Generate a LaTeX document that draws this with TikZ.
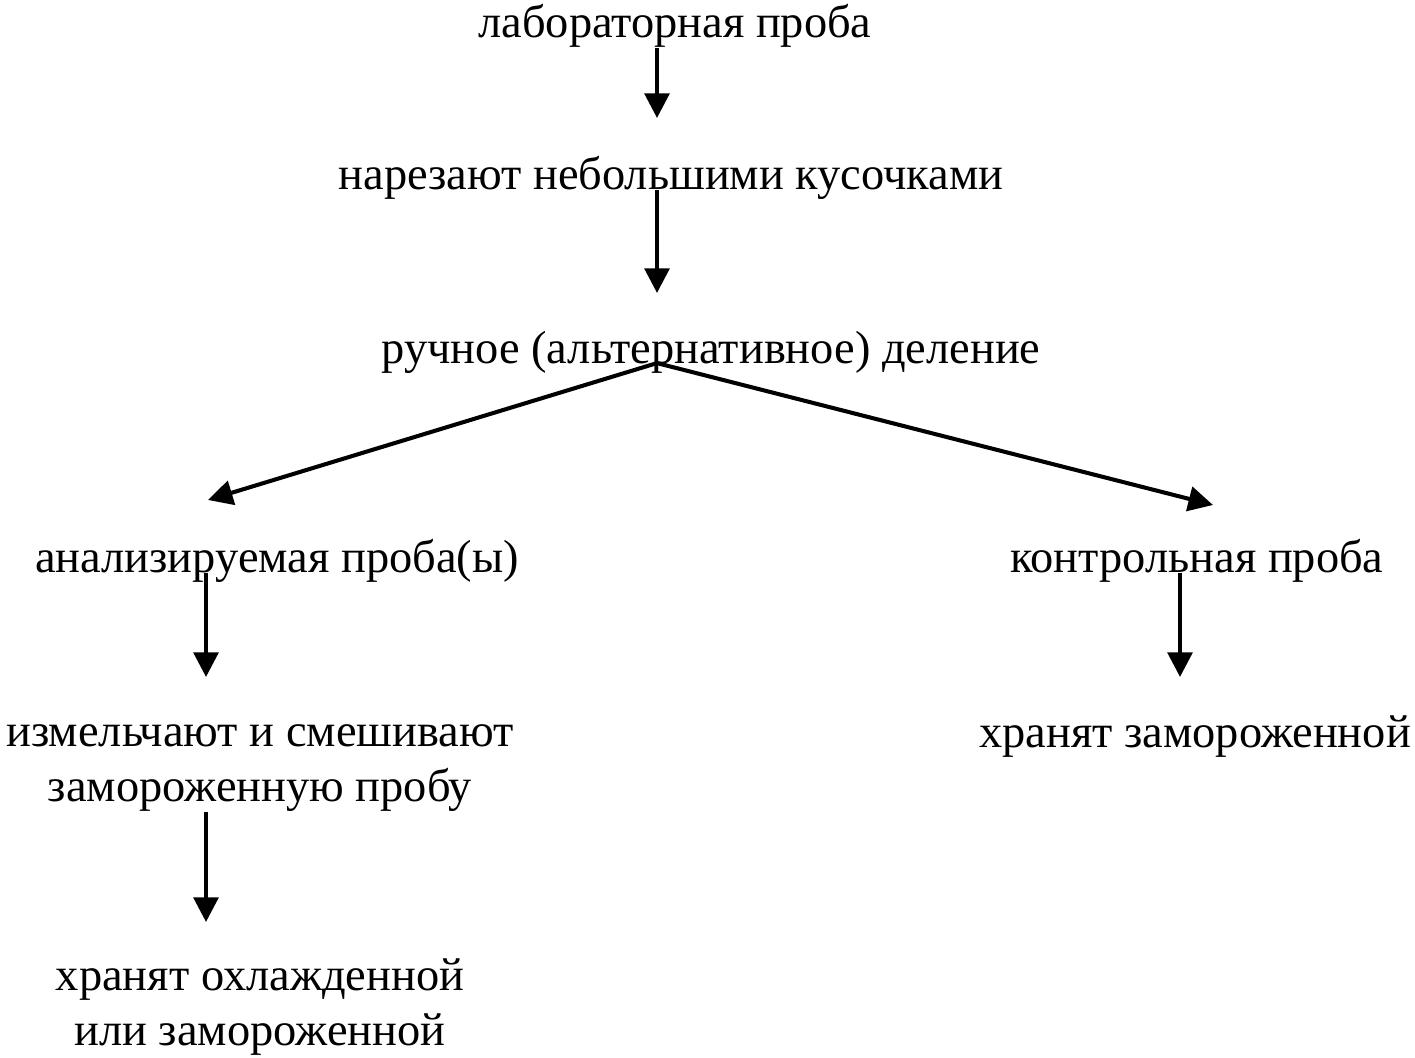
\documentclass[tikz,border=0pt]{standalone}
\usepackage{fontspec}
\setmainfont{Liberation Serif}
\usetikzlibrary{arrows.meta, positioning, calc}
\tikzset{
  label/.style={inner sep=0pt, align=center, font=\fontsize{13.2pt}{15.7pt}\selectfont},
  arrow/.style={-{Triangle[length=7pt, width=7pt]}, line width=1.15pt}
}

\begin{document}
\begin{tikzpicture}[x=0.01cm, y=-0.01cm]
    \useasboundingbox (0,0) rectangle (1415,1058);

    \node[label] (lab) at (675,26) {лабораторная проба};
    \node[label] (cut) at (671,178) {нарезают небольшими кусочками};
    \node[label] (split) at (711,352) {ручное (альтернативное) деление};
    \node[label] (anl) at (277,561) {анализируемая проба(ы)};
    \node[label] (ctl) at (1197,561) {контрольная проба};
    \node[label] (mix) at (260,768) {измельчают и смешивают\\замороженную пробу};
    \node[label] (keepf) at (1195,737) {хранят замороженной};
    \node[label] (keepc) at (260,1007) {хранят охлажденной\\или замороженной};

    % arrow tips
    \coordinate (t1) at (657,118);
    \coordinate (t2) at (657,293);
    \coordinate (tl) at (208,500);
    \coordinate (tr) at (1213,505);
    \coordinate (t4) at (206,677);
    \coordinate (t5) at (1180,677);
    \coordinate (t6) at (206,922);

    \draw[arrow] (lab.south -| t1) -- (t1);
    \draw[arrow] (cut.base -| t2) -- (t2);
    \draw[arrow] (split.base -| t2) -- (tl);
    \draw[arrow] (split.base -| t2) -- (tr);
    \draw[arrow] (anl.base -| t4) -- (t4);
    \draw[arrow] (ctl.base -| t5) -- (t5);
    \draw[arrow] (mix.south -| t6) -- (t6);
\end{tikzpicture}
\end{document}
